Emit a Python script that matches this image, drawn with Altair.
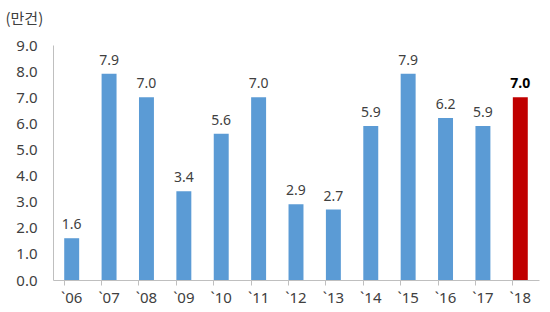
import altair as alt
import pandas as pd

years = ["`06", "`07", "`08", "`09", "`10", "`11", "`12", "`13", "`14", "`15", "`16", "`17", "`18"]
values = [1.6, 7.9, 7.0, 3.4, 5.6, 7.0, 2.9, 2.7, 5.9, 7.9, 6.2, 5.9, 7.0]
highlight = [False] * 12 + [True]
y_ticks = [0, 1, 2, 3, 4, 5, 6, 7, 8, 9]

df = pd.DataFrame({"year": years, "value": values, "hl": highlight})

FONT = "Noto Sans"
KFONT = "Noto Sans CJK KR"
TXT = "#404040"

x = alt.X("year:N", sort=years, title=None,
          scale=alt.Scale(paddingInner=0.6, paddingOuter=0.3),
          axis=alt.Axis(labelAngle=0, labelFont=FONT, labelFontSize=15, labelColor=TXT,
                        labelPadding=5, domainColor="#bfbfbf", tickColor="#bfbfbf",
                        tickSize=5, bandPosition=0, ticks=True, labelOverlap=False))
y = alt.Y("value:Q", title="(만건)",
          scale=alt.Scale(domain=[0, 9], nice=False),
          axis=alt.Axis(values=y_ticks, format=".1f", grid=False,
                        ticks=False, labelFont=FONT, labelFontSize=15, labelColor=TXT,
                        labelPadding=16, domainColor="#bfbfbf", labelOverlap=False,
                        titleAngle=0, titleAlign="left", titleBaseline="middle",
                        titleX=-48, titleY=-27, titleFont=KFONT, titleFontSize=15,
                        titleFontWeight="normal", titleColor=TXT))

base = alt.Chart(df)
bars = base.mark_bar().encode(
    x=x, y=y,
    color=alt.Color("hl:N", scale=alt.Scale(domain=[False, True], range=["#5B9BD5", "#C00000"]),
                    legend=None),
)
labels = base.transform_filter("!datum.hl").mark_text(
    dy=-6, baseline="bottom", font=FONT, fontSize=14, color=TXT
).encode(x=x, y=y, text=alt.Text("value:Q", format=".1f"))
labels_hl = base.transform_filter("datum.hl").mark_text(
    dy=-6, baseline="bottom", font=FONT, fontSize=14, color="#000000", fontWeight="bold"
).encode(x=x, y=y, text=alt.Text("value:Q", format=".1f"))

chart = alt.layer(bars, labels, labels_hl).properties(
    width=486, height=235,
    autosize=alt.AutoSizeParams(type="none"),
    padding={"left": 53, "top": 45, "right": 11, "bottom": 32},
).configure_view(stroke=None)

chart.save("out.html", embed_options={"renderer": "svg", "actions": False})
